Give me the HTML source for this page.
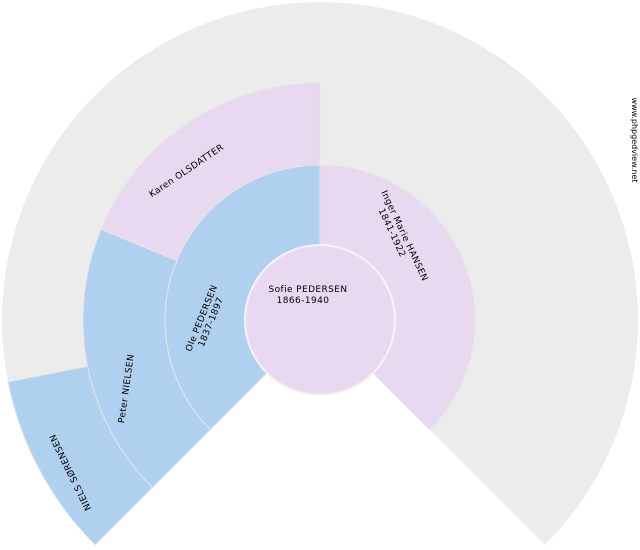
<!DOCTYPE html>
<html><head><meta charset="utf-8"><style>
html,body{margin:0;padding:0;background:#fff;width:640px;height:550px;overflow:hidden}
text{font-family:"DejaVu Sans","Liberation Sans",sans-serif;font-size:9px;fill:#000;letter-spacing:0.4px}
</style></head><body>
<svg width="640" height="550" viewBox="0 0 640 550" xmlns="http://www.w3.org/2000/svg">
<path d="M320,320 L95.1,544.9 A318,318 0 1 1 544.9,544.9 Z" fill="#ececec"/>
<path d="M95.1,544.9 A318 318 0 0 1 8.1,382 L87.6,366.2 A237 237 0 0 0 152.4,487.6 Z" fill="#b0d0f0" stroke="#e4e4e4" stroke-width="1"/>
<path d="M152.4,487.6 A237 237 0 0 1 101.04,229.3 L176.8,260.7 A155 155 0 0 0 210.4,429.6 Z" fill="#b0d0f0" stroke="#e4e4e4" stroke-width="1"/>
<path d="M101.04,229.3 A237 237 0 0 1 320,83 L320,165 A155 155 0 0 0 176.8,260.7 Z" fill="#e8d8f0" stroke="#e4e4e4" stroke-width="1"/>
<path d="M210.4,429.6 A155 155 0 0 1 320,165 L320,245 A75 75 0 0 0 266.97,373.03 Z" fill="#b0d0f0" stroke="#e4e4e4" stroke-width="1"/>
<path d="M320,165 A155 155 0 0 1 429.6,429.6 L373.03,373.03 A75 75 0 0 0 320,245 Z" fill="#e8d8f0" stroke="#e4e4e4" stroke-width="1"/>
<circle cx="320" cy="320" r="75" fill="#e8d8f0" stroke="#f4f4f4" stroke-width="2"/>
<text x="308" y="292" text-anchor="middle">Sofie PEDERSEN</text>
<text x="303" y="303" text-anchor="middle">1866-1940</text>
<g transform="translate(402,237) rotate(65)">
<text x="0" y="0" text-anchor="middle">Inger Marie HANSEN</text>
<text x="-8" y="10" text-anchor="middle">1841-1922</text>
</g>
<g transform="translate(206,320) rotate(-68)">
<text x="0" y="-2" text-anchor="middle">Ole PEDERSEN</text>
<text x="0" y="8" text-anchor="middle">1837-1897</text>
</g>
<text transform="translate(188,173) rotate(-34)" text-anchor="middle">Karen OLSDATTER</text>
<text transform="translate(129,389) rotate(-82)" text-anchor="middle">Peter NIELSEN</text>
<text transform="translate(73,471) rotate(-116)" text-anchor="middle">NIELS SØRENSEN</text>
<text transform="translate(632,140) rotate(90)" text-anchor="middle" style="font-size:8px;letter-spacing:0">www.phpgedview.net</text>
</svg>
</body></html>
